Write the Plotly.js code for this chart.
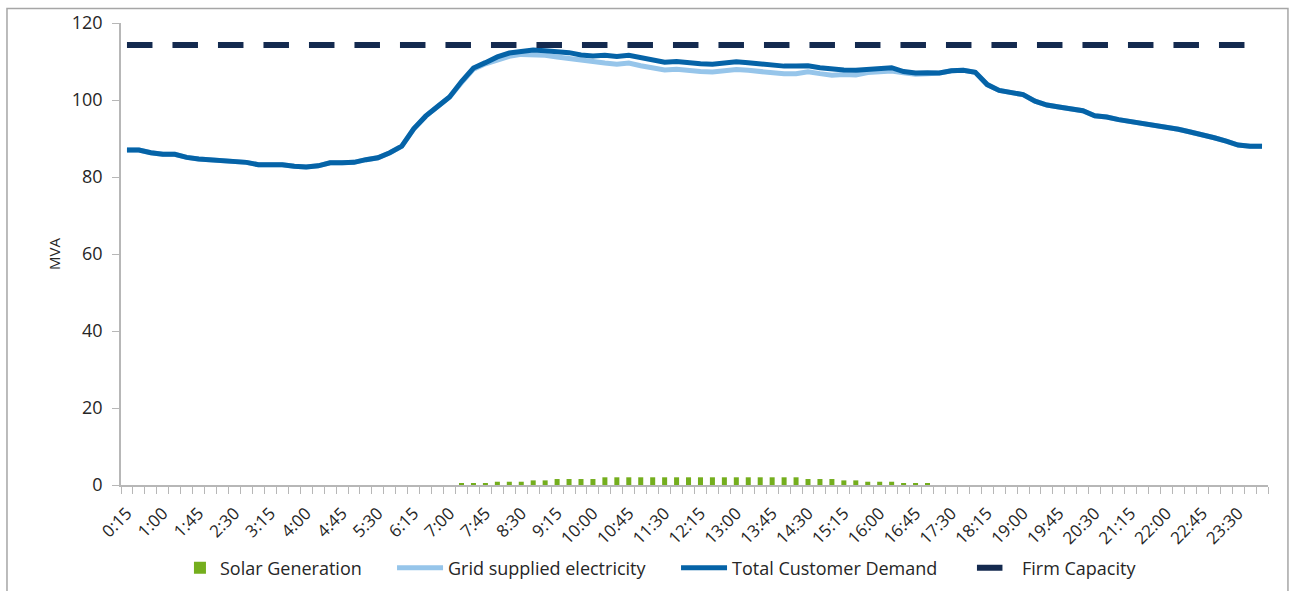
<!DOCTYPE html>
<html>
<head>
<meta charset="utf-8">
<script src="https://cdn.plot.ly/plotly-3.0.1.min.js"></script>
<style>
  html, body { margin: 0; padding: 0; background: #ffffff; }
  #chart { width: 1295px; height: 591px; }
</style>
</head>
<body>
<div id="chart"></div>
<script>
// Daily demand profile in 15-minute intervals (MVA)
const times = [
  "0:15","0:30","0:45","1:00","1:15","1:30","1:45","2:00","2:15","2:30","2:45","3:00",
  "3:15","3:30","3:45","4:00","4:15","4:30","4:45","5:00","5:15","5:30","5:45","6:00",
  "6:15","6:30","6:45","7:00","7:15","7:30","7:45","8:00","8:15","8:30","8:45","9:00",
  "9:15","9:30","9:45","10:00","10:15","10:30","10:45","11:00","11:15","11:30","11:45","12:00",
  "12:15","12:30","12:45","13:00","13:15","13:30","13:45","14:00","14:15","14:30","14:45","15:00",
  "15:15","15:30","15:45","16:00","16:15","16:30","16:45","17:00","17:15","17:30","17:45","18:00",
  "18:15","18:30","18:45","19:00","19:15","19:30","19:45","20:00","20:15","20:30","20:45","21:00",
  "21:15","21:30","21:45","22:00","22:15","22:30","22:45","23:00","23:15","23:30","23:45","0:00"
];

const totalDemand = [
  87.0, 87.0, 86.3, 85.9, 85.9, 85.1, 84.7, 84.5, 84.1, 83.9, 83.8, 83.2,
  83.2, 83.2, 82.8, 82.6, 82.9, 83.7, 83.7, 83.8, 84.5, 85.0, 86.3, 88.0,
  92.5, 95.8, 98.3, 100.8, 104.8, 108.3, 109.7, 111.2, 112.2, 112.7, 113.0, 112.8,
  112.7, 112.3, 111.7, 111.4, 111.6, 111.3, 111.6, 110.9, 110.3, 109.8, 110.0, 109.6,
  109.4, 109.3, 109.5, 109.9, 109.7, 109.3, 108.9, 108.8, 108.8, 108.9, 108.4, 108.0,
  107.8, 107.7, 108.0, 108.2, 108.4, 107.4, 107.0, 107.1, 107.0, 107.6, 107.7, 107.2,
  104.0, 102.5, 101.8, 101.4, 99.7, 98.7, 98.2, 97.8, 97.2, 95.9, 95.6, 94.9,
  94.4, 93.9, 93.3, 93.1, 92.4, 91.7, 91.1, 90.2, 89.3, 88.3, 88.0, 88.0
];

const solarGeneration = [
  0, 0, 0, 0, 0, 0, 0, 0, 0, 0, 0, 0,
  0, 0, 0, 0, 0, 0, 0, 0, 0, 0, 0, 0,
  0, 0, 0, 0, 0.3, 0.3, 0.3, 0.85, 0.85, 0.85, 1.2, 1.2,
  1.55, 1.55, 1.55, 1.55, 2.0, 2.0, 2.0, 2.0, 2.0, 2.0, 2.0, 2.0,
  2.0, 2.0, 2.0, 2.0, 2.0, 2.0, 2.0, 2.0, 2.0, 1.55, 1.55, 1.55,
  1.2, 1.2, 0.85, 0.85, 0.85, 0.3, 0.3, 0.3, 0, 0, 0, 0,
  0, 0, 0, 0, 0, 0, 0, 0, 0, 0, 0, 0,
  0, 0, 0, 0, 0, 0, 0, 0, 0, 0, 0, 0
];

const firmCapacity = 114.3;

const yTicks = [0, 20, 40, 60, 80, 100, 120];

// Grid supply is what the customers draw less what solar covers
const gridSupplied = totalDemand.map((v, i) => v - solarGeneration[i]);

// Position of each interval along the axis
const idx = times.map((_, i) => i);

// Every third interval gets a label
const labelIdx = idx.filter(i => i % 3 === 0);
const labelText = labelIdx.map(i => times[i]);

const FONT = "'Open Sans', Lato, sans-serif";
const TEXT = "#262626";
const AXIS = "#b7b7b7";

const traces = [
  {
    type: "bar",
    name: "Solar Generation",
    x: idx, y: solarGeneration, text: times, textposition: "none",
    width: 0.42,
    marker: { color: "#74ae1d" },
    hovertemplate: "%{text}: %{y} MVA<extra>Solar Generation</extra>",
    legend: "legend"
  },
  {
    type: "scatter", mode: "lines",
    name: "Grid supplied electricity",
    x: idx, y: gridSupplied, text: times,
    line: { color: "#96c5ea", width: 5 },
    hovertemplate: "%{text}: %{y:.1f} MVA<extra>Grid supplied electricity</extra>",
    legend: "legend2"
  },
  {
    type: "scatter", mode: "lines",
    name: "Total Customer Demand",
    x: idx, y: totalDemand, text: times,
    line: { color: "#0563a7", width: 5 },
    hovertemplate: "%{text}: %{y:.1f} MVA<extra>Total Customer Demand</extra>",
    legend: "legend3"
  },
  {
    type: "scatter", mode: "lines",
    name: "Firm Capacity",
    x: idx, y: idx.map(() => firmCapacity), text: times,
    line: { color: "#142a4f", width: 6, dash: "25.5px,20px" },
    hovertemplate: "%{text}: %{y} MVA<extra>Firm Capacity</extra>",
    legend: "legend4"
  }
];

const legendBase = {
  orientation: "h",
  yanchor: "middle",
  xanchor: "left",
  y: -0.18,
  bgcolor: "rgba(0,0,0,0)",
  borderwidth: 0,
  font: { family: FONT, size: 18, color: TEXT }
};

const layout = {
  width: 1295,
  height: 591,
  margin: { l: 121, r: 27, t: 23, b: 106, autoexpand: false },
  paper_bgcolor: "#ffffff",
  plot_bgcolor: "#ffffff",
  font: { family: FONT, size: 16, color: TEXT },
  showlegend: true,
  legend:  Object.assign({}, legendBase, { x: 0.0514 }),
  legend2: Object.assign({}, legendBase, { x: 0.2363, itemwidth: 46 }),
  legend3: Object.assign({}, legendBase, { x: 0.4839, itemwidth: 46 }),
  legend4: Object.assign({}, legendBase, { x: 0.7419, itemwidth: 40 }),
  xaxis: {
    type: "linear",
    range: [-0.5, 95.5],
    tickmode: "array",
    tickvals: labelIdx,
    ticktext: labelText,
    tickangle: -45,
    ticks: "",
    ticklabelstandoff: 10,
    showgrid: false,
    zeroline: false,
    showline: true,
    linecolor: AXIS,
    linewidth: 1.5,
    tickfont: { family: FONT, size: 17, color: TEXT },
    minor: {
      ticks: "outside",
      tickmode: "linear",
      tick0: -0.5,
      dtick: 1,
      ticklen: 7,
      tickwidth: 1,
      tickcolor: AXIS,
      showgrid: false
    },
    fixedrange: true
  },
  yaxis: {
    range: [0, 120],
    tickmode: "array",
    tickvals: yTicks,
    ticks: "outside",
    ticklen: 7,
    tickwidth: 1,
    tickcolor: AXIS,
    ticklabelstandoff: 6,
    showgrid: false,
    zeroline: false,
    showline: true,
    linecolor: AXIS,
    linewidth: 1.5,
    tickfont: { family: FONT, size: 18, color: TEXT },
    title: { text: "MVA", standoff: 8, font: { family: FONT, size: 15, color: TEXT } },
    automargin: true,
    fixedrange: true
  },
  shapes: [
    {
      type: "rect", xref: "paper", yref: "paper",
      x0: -0.0994, x1: 1.0174, y0: -0.26, y1: 1.0314,
      line: { color: "#a6a6a6", width: 1.5 },
      fillcolor: "rgba(0,0,0,0)",
      layer: "below"
    }
  ]
};

Plotly.newPlot("chart", traces, layout, { displayModeBar: false });
</script>
</body>
</html>
